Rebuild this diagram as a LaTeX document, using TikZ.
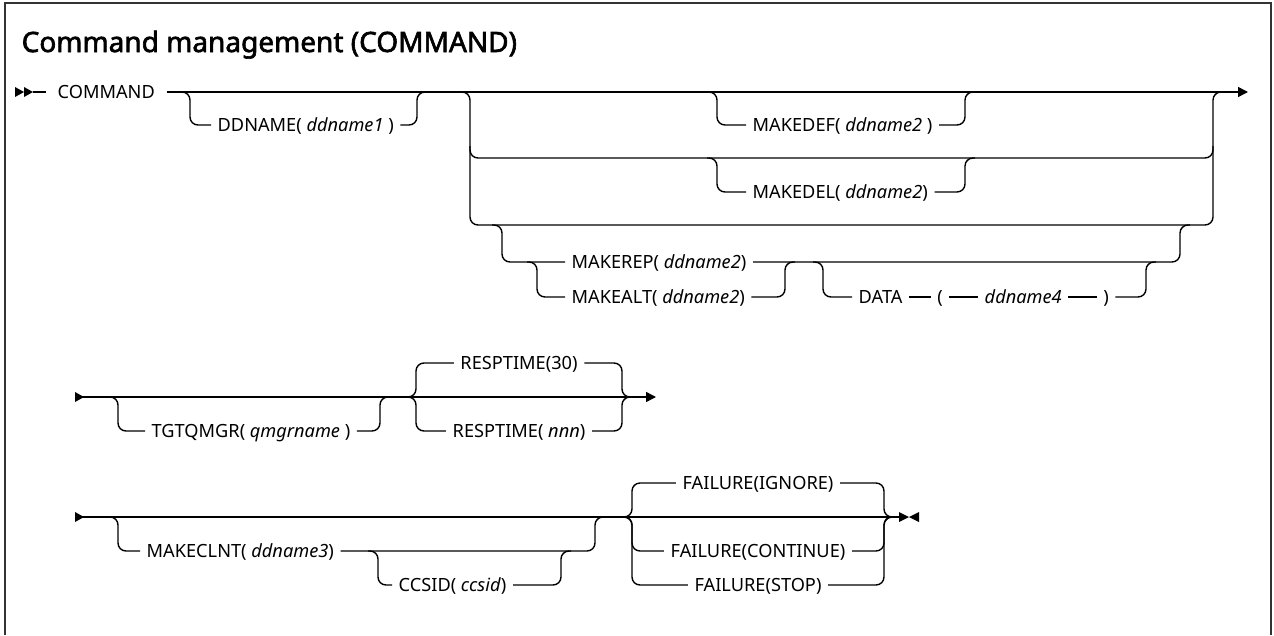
\documentclass[tikz,border=0pt]{standalone}
\usepackage{fontspec}
\setmainfont{Noto Sans}[AutoFakeBold=2.2]
\usepackage{tikz}
\usetikzlibrary{arrows.meta}

\begin{document}
\begin{tikzpicture}[
    x=1pt, y=-1pt,
    line width=1.4pt,
    >={Triangle[length=10pt,width=10pt]},
    rail/.style={rounded corners=8pt},
    item/.style={inner xsep=6pt, inner ysep=0pt, text height=13pt, text depth=0pt, font=\fontsize{18.2}{20}\selectfont},
    heading/.style={inner sep=0pt, anchor=base west, font=\fontsize{28}{30}\selectfont\bfseries}
]
\useasboundingbox (0,0) rectangle (1274,635);
\draw[line width=2.5pt, black!80] (5,635) -- (5,3) -- (1271,3) -- (1271,635);

\node[heading] (title) at (21,52) {Command management (COMMAND)};

\coordinate (st1) at (15,92);
\coordinate (end1) at (1248,92);
\node[item, anchor=west, inner xsep=11pt] (cmd) at (46,92) {COMMAND};

\coordinate (ddL) at (190,92);
\coordinate (ddR) at (417,92);
\node[item, anchor=west] (dd) at (211,125) {DDNAME( \textit{ddname1} )};

\coordinate (gL) at (470,92);
\coordinate (gR) at (1213,92);
\coordinate (g2L) at (470,158);
\coordinate (g2R) at (1213,158);
\coordinate (g3L) at (470,225);
\coordinate (g3R) at (1213,225);

\coordinate (mdfL) at (717,92);
\coordinate (mdfR) at (965,92);
\node[item, anchor=west] (mkdef) at (746,125) {MAKEDEF( \textit{ddname2} )};
\coordinate (mdlL) at (717,158);
\coordinate (mdlR) at (965,158);
\node[item, anchor=west] (mkdel) at (746,192) {MAKEDEL( \textit{ddname2}\/)};

\coordinate (mrL) at (502,225);
\coordinate (mrR) at (1180,225);
\node[item, anchor=west] (mkrep) at (565,262) {MAKEREP( \textit{ddname2}\/)};
\coordinate (maL) at (537,262);
\coordinate (maR) at (785,262);
\node[item, anchor=west] (mkalt) at (565,297) {MAKEALT( \textit{ddname2}\/)};

\coordinate (daL) at (823,262);
\coordinate (daR) at (1146,262);
\node[item, anchor=west] (data) at (852,297) {DATA};
\node[item] (lp) at (940,297) {(};
\node[item, anchor=west] (dn4) at (978,297) {\textit{ddname4}};
\node[item] (rp) at (1106,297) {)};

\fill (st1) -- ++(0,-5) -- ++(9,5) -- ++(-9,5) -- cycle;
\fill (st1) ++(9,0) -- ++(0,-5) -- ++(9,5) -- ++(-9,5) -- cycle;
\draw (st1) ++(18,0) -- (cmd.west);
\draw[->] (cmd.east) -- (end1);

\draw[rail] (ddL) ++(-10,0) -- (ddL) |- (dd.west);
\draw[rail] (dd.east) -| (ddR) -- ++(10,0);

\draw[rail] (gL) ++(-10,0) -- (gL) -- (g3L) -- (g3R) -- (gR) -- ++(10,0);
\draw[rail] (g2L) ++(0,-12) -- (g2L) -- (g2R) -- ++(0,-12);

\draw[rail] (mdfL) ++(-10,0) -- (mdfL) |- (mkdef.west);
\draw[rail] (mkdef.east) -| (mdfR) -- ++(10,0);
\draw[rail] (mdlL) ++(-10,0) -- (mdlL) |- (mkdel.west);
\draw[rail] (mkdel.east) -| (mdlR) -- ++(10,0);

\draw[rail] (mrL) ++(-10,0) -- (mrL) |- (mkrep.west);
\draw[rail] (mkrep.east) -| (mrR) -- ++(10,0);
\draw[rail] (maL) ++(-10,0) -- (maL) |- (mkalt.west);
\draw[rail] (mkalt.east) -| (maR) -- ++(10,0);

\draw[rail] (daL) ++(-10,0) -- (daL) |- (data.west);
\draw (data) -- (lp) -- (dn4) -- (rp);
\draw[rail] (rp.east) -| (daR) -- ++(10,0);

\coordinate (st2) at (75,397);
\coordinate (end2) at (656,397);
\coordinate (tgL) at (118,397);
\coordinate (tgR) at (380,397);
\node[item, anchor=west] (tgt) at (145,431) {TGTQMGR( \textit{qmgrname} )};
\coordinate (rsL) at (416,397);
\coordinate (rsR) at (622,397);
\node[item] (rs30) at (519,363) {RESPTIME(30)};
\node[item] (rsn) at (519,431) {RESPTIME( \textit{nnn}\/)};

\fill (st2) -- ++(0,-5) -- ++(9,5) -- ++(-9,5) -- cycle;
\draw[->] (st2) -- (end2);
\draw[rail] (tgL) ++(-10,0) -- (tgL) |- (tgt.west);
\draw[rail] (tgt.east) -| (tgR) -- ++(10,0);
\draw[rail] (rsL) ++(-10,0) -- (rsL) |- (rs30.west);
\draw[rail] (rsL) ++(-10,0) -- (rsL) |- (rsn.west);
\draw[rail] (rs30.east) -| (rsR) -- ++(10,0);
\draw[rail] (rsn.east) -| (rsR) -- ++(10,0);

\coordinate (st3) at (75,517);
\coordinate (end3) at (899,517);
\coordinate (mcL) at (118,517);
\coordinate (mcR) at (595,517);
\node[item, anchor=west] (mkc) at (140,551) {MAKECLNT( \textit{ddname3}\/)};
\coordinate (csL) at (378,551);
\coordinate (csR) at (561,551);
\node[item, anchor=west] (ccs) at (392,585) {CCSID( \textit{ccsid}\/)};
\coordinate (faL) at (632,517);
\coordinate (faR) at (884,517);
\node[item] (fign) at (758,483) {FAILURE(IGNORE)};
\node[item] (fcon) at (758,551) {FAILURE(CONTINUE)};
\node[item] (fstp) at (758,585) {FAILURE(STOP)};

\fill (st3) -- ++(0,-5) -- ++(9,5) -- ++(-9,5) -- cycle;
\draw (st3) -- (end3);
\fill (end3) -- ++(0,-5) -- ++(10,5) -- ++(-10,5) -- cycle;
\fill (end3) ++(20,0) -- ++(0,-5) -- ++(-10,5) -- ++(10,5) -- cycle;
\draw[rail] (mcL) ++(-10,0) -- (mcL) |- (mkc.west);
\draw[rail] (mkc.east) -| (mcR) -- ++(10,0);
\draw[rail] (csL) ++(-10,0) -- (csL) |- (ccs.west);
\draw[rail] (ccs.east) -| (csR) -- ++(10,0);
\draw[rail] (faL) ++(-10,0) -- (faL) |- (fign.west);
\draw[rail] (faL) ++(-10,0) -- (faL) |- (fcon.west);
\draw[rail] (faL) ++(-10,0) -- (faL) |- (fstp.west);
\draw[rail] (fign.east) -| (faR) -- ++(10,0);
\draw[rail] (fcon.east) -| (faR) -- ++(10,0);
\draw[rail] (fstp.east) -| (faR) -- ++(10,0);
\end{tikzpicture}
\end{document}
